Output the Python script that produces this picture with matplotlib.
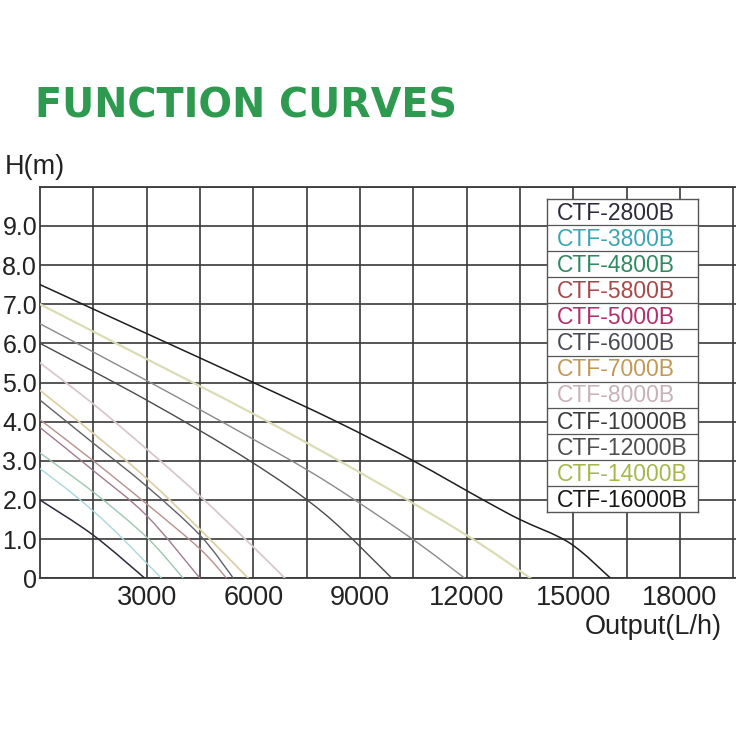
import matplotlib
matplotlib.use("Agg")
import matplotlib.pyplot as plt
from matplotlib import font_manager
from matplotlib.ticker import FixedLocator, FuncFormatter
from matplotlib.path import Path
from matplotlib.patches import PathPatch

# ---------------- data ----------------
models = ["CTF-2800B", "CTF-3800B", "CTF-4800B", "CTF-5800B", "CTF-5000B", "CTF-6000B",
          "CTF-7000B", "CTF-8000B", "CTF-10000B", "CTF-12000B", "CTF-14000B", "CTF-16000B"]

q_2800 = [0, 1500, 2950]
h_2800 = [2.0, 1.1, 0.0]
q_3800 = [0, 1000, 2000, 3420]
h_3800 = [2.8, 2.1, 1.3, 0.0]
q_4800 = [0, 1500, 3000, 4030]
h_4800 = [3.2, 2.2, 1.05, 0.0]
q_5800 = [0, 1500, 3000, 4500, 5250]
h_5800 = [4.05, 3.0, 1.9, 0.75, 0.0]
q_5000 = [0, 1500, 3000, 4500]
h_5000 = [3.85, 2.75, 1.6, 0.0]
q_6000 = [0, 1500, 3000, 4500, 5440]
h_6000 = [4.55, 3.45, 2.35, 1.1, 0.0]
q_7000 = [0, 1500, 3000, 4500, 5860]
h_7000 = [4.8, 3.7, 2.55, 1.25, 0.0]
q_8000 = [0, 1500, 3000, 4500, 6000, 6890]
h_8000 = [5.5, 4.45, 3.3, 2.1, 0.8, 0.0]
q_10000 = [0, 3000, 5900, 8000, 9900]
h_10000 = [6.0, 4.55, 3.0, 1.65, 0.0]
q_12000 = [0, 3000, 5900, 8000, 10400, 11950]
h_12000 = [6.5, 5.05, 3.6, 2.5, 1.05, 0.0]
q_14000 = [0, 3000, 6000, 9000, 12000, 13800]
h_14000 = [7.0, 5.6, 4.2, 2.7, 1.1, 0.0]
q_16000 = [0, 3000, 6000, 8345, 10500, 12470, 13500, 14900, 16050]
h_16000 = [7.5, 6.25, 5.0, 4.0, 3.0, 2.0, 1.5, 0.9, 0.0]

flows = [q_2800, q_3800, q_4800, q_5800, q_5000, q_6000, q_7000, q_8000,
         q_10000, q_12000, q_14000, q_16000]
heads = [h_2800, h_3800, h_4800, h_5800, h_5000, h_6000, h_7000, h_8000,
         h_10000, h_12000, h_14000, h_16000]

x_ticks = [3000, 6000, 9000, 12000, 15000, 18000]
y_ticks = [0, 1, 2, 3, 4, 5, 6, 7, 8, 9]
y_tick_labels = ["0", "1.0", "2.0", "3.0", "4.0", "5.0", "6.0", "7.0", "8.0", "9.0"]

# ---------------- styles ----------------
legend_colors = ["#2b2b3b", "#3aa6b2", "#2f8a60", "#a44a4a", "#b0306f", "#4a4a55",
                 "#c09a55", "#c8b2ba", "#3a3a3a", "#4e4e4e", "#a6b84a", "#161616"]
line_colors = ["#2b2b3b", "#a8d8dc", "#9cc8b0", "#b89090", "#a07a90", "#606068",
               "#ddd0a8", "#d8c8cc", "#4a4a4a", "#8a8a8a", "#dcdcb4", "#1e1e1e"]
line_widths = [1.1, 1.0, 1.0, 1.0, 1.0, 1.0, 1.3, 1.3, 1.0, 1.0, 1.6, 1.1]

avail = {f.name for f in font_manager.fontManager.ttflist}
narrow = "Liberation Sans Narrow" if "Liberation Sans Narrow" in avail else "Liberation Sans"
plt.rcParams["font.family"] = [narrow, "DejaVu Sans"]


def smooth_path(xs, ys):
    """Catmull-Rom spline through the read points, as cubic Bezier segments."""
    n = len(xs)
    verts = [(xs[0], ys[0])]
    codes = [Path.MOVETO]
    for i in range(n - 1):
        x0, y0 = (xs[i - 1], ys[i - 1]) if i > 0 else (xs[i], ys[i])
        x1, y1 = xs[i], ys[i]
        x2, y2 = xs[i + 1], ys[i + 1]
        x3, y3 = (xs[i + 2], ys[i + 2]) if i + 2 < n else (xs[i + 1], ys[i + 1])
        c1 = (x1 + (x2 - x0) / 6.0, y1 + (y2 - y0) / 6.0)
        c2 = (x2 - (x3 - x1) / 6.0, y2 - (y3 - y1) / 6.0)
        verts += [c1, c2, (x2, y2)]
        codes += [Path.CURVE4] * 3
    return Path(verts, codes)


W = H = 736.0
fig = plt.figure(figsize=(7.36, 7.36), dpi=100)
fig.patch.set_facecolor("white")

left_px, right_px, top_px, bot_px = 40.0, 736.0, 186.7, 578.3
ax = fig.add_axes([left_px / W, (H - bot_px) / H, (right_px - left_px) / W, (bot_px - top_px) / H])
xmax = (right_px - left_px) / 53.33 * 1500
ax.set_xlim(0, xmax)
ax.set_ylim(0, 10)

grid_c = "#3a3a3a"
ax.xaxis.set_major_locator(FixedLocator([1500 * i for i in range(1, 14)]))
ax.yaxis.set_major_locator(FixedLocator(y_ticks + [10]))
ax.grid(True, color=grid_c, linewidth=1.2, zorder=0)
for s in ["left", "bottom", "top"]:
    ax.spines[s].set_color(grid_c)
    ax.spines[s].set_linewidth(1.3)
ax.spines["right"].set_visible(False)

ax.xaxis.set_major_formatter(FuncFormatter(lambda v, p: f"{int(round(v))}" if int(round(v)) in x_ticks else ""))
ylab = dict(zip(y_ticks, y_tick_labels))
ax.yaxis.set_major_formatter(FuncFormatter(lambda v, p: ylab.get(int(round(v)), "") if v < 9.5 else ""))
ax.tick_params(axis="both", length=0, colors="#222222")
ax.tick_params(axis="x", pad=5, labelsize=19.5)
ax.tick_params(axis="y", pad=2, labelsize=18)

for q, h, c, lw in zip(flows, heads, line_colors, line_widths):
    ax.add_patch(PathPatch(smooth_path(q, h), facecolor="none", edgecolor=c,
                           linewidth=lw, zorder=3, capstyle="round"))

# ---------------- legend table ----------------
lx0, lx1, ly0, ly1 = 547.0, 698.0, 199.0, 512.0
lax = fig.add_axes([lx0 / W, (H - ly1) / H, (lx1 - lx0) / W, (ly1 - ly0) / H])
lax.set_xlim(0, 1)
lax.set_ylim(len(models), 0)
lax.set_xticks([])
lax.set_yticks([])
lax.set_facecolor("white")
for s in lax.spines.values():
    s.set_color("#555555")
    s.set_linewidth(1.0)
for i in range(1, len(models)):
    lax.axhline(i, color="#555555", linewidth=0.9)
for i, (m, c) in enumerate(zip(models, legend_colors)):
    lax.text(0.065, i + 0.55, m, color=c, fontsize=16.5, ha="left", va="center")

# ---------------- titles ----------------
fig.text(35 / W, (H - 107) / H, "FUNCTION CURVES", color="#2e9a50", fontsize=28.5,
         fontweight="bold", family="DejaVu Sans", ha="left", va="center")
fig.text(5 / W, (H - 167) / H, "H(m)", color="#222222", fontsize=19.5, ha="left", va="center")
fig.text(722 / W, (H - 627) / H, "Output(L/h)", color="#222222", fontsize=19.5, ha="right", va="center")

fig.savefig("out.png", dpi=100, facecolor="white")
